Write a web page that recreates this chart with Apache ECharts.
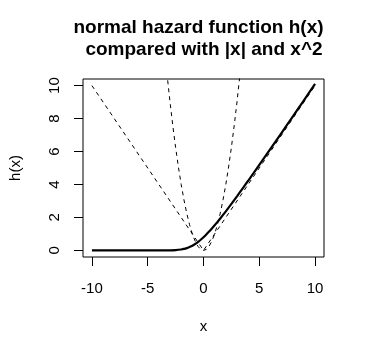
<!DOCTYPE html>
<html>
<head>
<meta charset="utf-8">
<script src="https://cdn.jsdelivr.net/npm/echarts@6/dist/echarts.min.js"></script>
<style>html,body{margin:0;padding:0;background:#fff;}#c{width:365px;height:356px;}</style>
</head>
<body>
<div id="c"></div>
<script>
// x values for the hazard curve
var hazX = [-10,-9,-8,-7,-6,-5,-4,-3.5,-3,-2.5,-2,-1.75,-1.5,-1.25,-1,-0.75,-0.5,-0.25,0,0.25,0.5,0.75,1,1.25,1.5,1.75,2,2.5,3,3.5,4,4.5,5,5.5,6,7,8,9,10];
// h(x) values
var hazY = [0,0,0,0,0,0,0.0001,0.0009,0.0044,0.0183,0.0552,0.0893,0.1388,0.2083,0.2876,0.3902,0.5092,0.6458,0.7979,0.9659,1.1411,1.3282,1.5251,1.7288,1.9387,2.1521,2.3732,2.8228,3.2831,3.7532,4.2256,4.7030,5.1865,5.6736,6.1584,7.1369,8.1209,9.1075,10.0981];
// |x| comparison line
var absX = [-10, 0, 10];
var absY = [10, 0, 10];
// x^2 comparison curve
var sqX = [-3.5,-3.25,-3,-2.75,-2.5,-2.25,-2,-1.75,-1.5,-1.25,-1,-0.75,-0.5,-0.25,0,0.25,0.5,0.75,1,1.25,1.5,1.75,2,2.25,2.5,2.75,3,3.25,3.5];
var sqY = [12.25,10.5625,9,7.5625,6.25,5.0625,4,3.0625,2.25,1.5625,1,0.5625,0.25,0.0625,0,0.0625,0.25,0.5625,1,1.5625,2.25,3.0625,4,5.0625,6.25,7.5625,9,10.5625,12.25];
// tick labels
var xTicks = [-10, -5, 0, 5, 10];
var yTicks = [0, 2, 4, 6, 8, 10];
// title lines
var titleLines = ['normal hazard function h(x)', 'compared with |x| and x^2'];

function pairs(xs, ys) { return xs.map(function (v, i) { return [v, ys[i]]; }); }

var FONT = '"Liberation Sans", Arial, Helvetica, sans-serif';
var titleStyle = { fontFamily: FONT, fontSize: 19, fontWeight: 'bold', color: '#000' };
var chart = echarts.init(document.getElementById('c'), null, { renderer: 'canvas' });
chart.setOption({
  animation: false,
  backgroundColor: '#fff',
  title: [
    { text: titleLines[0], left: 198.5, top: 18, textAlign: 'center', textStyle: titleStyle, padding: 0 },
    { text: titleLines[1], left: 204, top: 40, textAlign: 'center', textStyle: titleStyle, padding: 0 }
  ],
  grid: { left: 79, right: 41, top: 79, bottom: 99, show: true, borderColor: '#000', borderWidth: 1, backgroundColor: 'transparent' },
  xAxis: {
    type: 'value', min: -10.8, max: 10.8,
    name: 'x', nameLocation: 'middle', nameGap: 62,
    nameTextStyle: { fontFamily: FONT, fontSize: 15, color: '#000' },
    axisLine: { show: false, onZero: false },
    splitLine: { show: false },
    axisTick: { show: true, inside: false, length: 9, customValues: xTicks, lineStyle: { color: '#000', width: 1 } },
    axisLabel: { customValues: xTicks, margin: 24, fontFamily: FONT, fontSize: 15, color: '#000' }
  },
  yAxis: {
    type: 'value', min: -0.4, max: 10.4,
    name: 'h(x)', nameLocation: 'middle', nameGap: 60, nameRotate: 90,
    nameTextStyle: { fontFamily: FONT, fontSize: 15, color: '#000' },
    axisLine: { show: false, onZero: false },
    splitLine: { show: false },
    axisTick: { show: true, inside: false, length: 9, customValues: yTicks, lineStyle: { color: '#000', width: 1 } },
    axisLabel: { customValues: yTicks, rotate: 90, margin: 21, fontFamily: FONT, fontSize: 15, color: '#000' }
  },
  series: [
    { type: 'line', data: pairs(absX, absY), showSymbol: false, silent: true,
      lineStyle: { color: '#000', width: 1, type: [4, 4] } },
    { type: 'line', data: pairs(sqX, sqY), showSymbol: false, silent: true, clip: true,
      lineStyle: { color: '#000', width: 1, type: [4, 4] } },
    { type: 'line', data: pairs(hazX, hazY), showSymbol: false, silent: true, smooth: 0.3,
      lineStyle: { color: '#000', width: 2.2 } }
  ]
});
</script>
</body>
</html>
